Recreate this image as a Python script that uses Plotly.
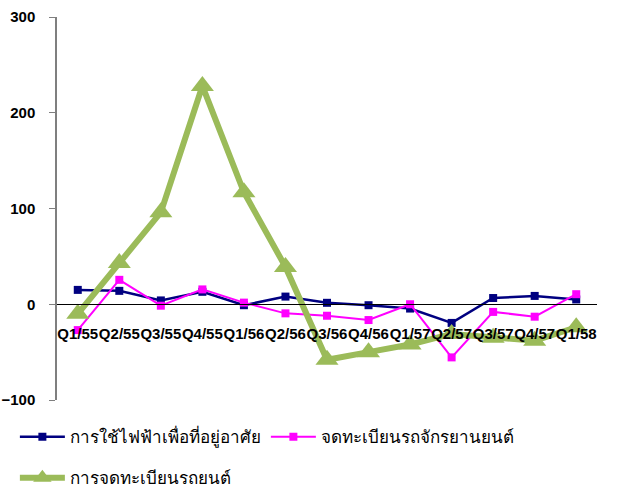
import plotly.graph_objects as go

categories = ["Q1/55", "Q2/55", "Q3/55", "Q4/55", "Q1/56", "Q2/56", "Q3/56",
              "Q4/56", "Q1/57", "Q2/57", "Q3/57", "Q4/57", "Q1/58"]
electricity = [15, 14, 4, 13, -1, 8, 1.5, -1, -4.5, -19.5, 6.5, 8.7, 5]
motorcycles = [-27, 25.5, -1.5, 15.5, 1.7, -9.5, -12, -16.5, 0, -55.5, -8, -13, 10.5]
cars = [-10, 43, 96, 228, 117, 39, -58, -50, -42, -31, -35, -38, -24]

names = ["การใช้ไฟฟ้าเพื่อที่อยู่อาศัย", "จดทะเบียนรถจักรยานยนต์", "การจดทะเบียนรถยนต์"]
y_ticks = [-100, 0, 100, 200, 300]

fig = go.Figure()
fig.add_trace(go.Scatter(x=categories, y=electricity, name=names[0], mode="lines+markers",
                         line=dict(color="#000080", width=2.5),
                         marker=dict(symbol="square", size=8, color="#000080"),
                         legend="legend"))
fig.add_trace(go.Scatter(x=categories, y=motorcycles, name=names[1], mode="lines+markers",
                         line=dict(color="#FF00FF", width=2),
                         marker=dict(symbol="square", size=8, color="#FF00FF"),
                         legend="legend"))
fig.add_trace(go.Scatter(x=categories, y=cars, name=names[2], mode="lines+markers",
                         line=dict(color="#9BBB59", width=6),
                         marker=dict(symbol="triangle-up", size=20, color="#9BBB59"),
                         legend="legend2"))

fig.update_layout(
    width=624, height=490,
    margin=dict(l=57, r=27, t=17, b=90, autoexpand=False),
    plot_bgcolor="white", paper_bgcolor="white",
    font=dict(family="Liberation Sans, Arial, sans-serif", color="black"),
    showlegend=True,
    legend=dict(orientation="h", x=-0.078, y=-0.097, xanchor="left", yanchor="middle",
                entrywidth=191, entrywidthmode="pixels", itemwidth=45,
                font=dict(size=17, color="black"), tracegroupgap=0),
    legend2=dict(orientation="h", x=-0.078, y=-0.204, xanchor="left", yanchor="middle",
                 itemwidth=45, font=dict(size=17, color="black")),
    xaxis=dict(type="category", range=[-0.5, 12.5], anchor="free", position=0.25,
               showline=True, linecolor="black", linewidth=1, showgrid=False,
               zeroline=False, ticks="", ticklabelstandoff=16, automargin=False,
               tickangle=0,
               tickfont=dict(size=15, family="Liberation Sans, Arial", weight="bold")),
    yaxis=dict(range=[-100, 300], tickvals=y_ticks, showgrid=False, zeroline=False,
               showline=True, linecolor="#7f7f7f", linewidth=1.5, automargin=False,
               ticks="outside", ticklen=6, tickcolor="#7f7f7f", ticklabelstandoff=11,
               tickfont=dict(size=15, family="Liberation Sans, Arial", weight="bold")),
)

# remove the browser's default 8px body margin so the chart fills the window
fig.write_html("out.html", config={"displayModeBar": False},
               post_script="document.body.style.margin='0';")
